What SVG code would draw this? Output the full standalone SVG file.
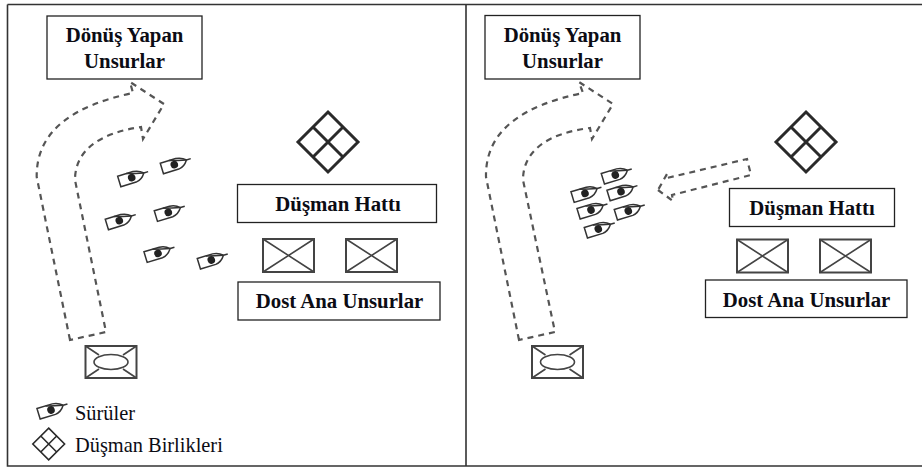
<svg xmlns="http://www.w3.org/2000/svg" width="922" height="467" viewBox="0 0 922 467">
<style>
text{font-family:"Liberation Serif","Times New Roman",serif;fill:#0c0c14}
.b{font-weight:bold;font-size:20.800px;text-anchor:middle}
.l{font-size:20.400px}
.box{fill:#fff;stroke:#222;stroke-width:1.300}
.sym{fill:none;stroke:#444;stroke-width:1.600}
.bt{fill:none;stroke:#333;stroke-width:1.500}
.dia{fill:none;stroke:#2a2a2a;stroke-width:3}
.arrow{fill:none;stroke:#555;stroke-width:2.200;stroke-dasharray:6 5}
</style>
<defs>
<g id="boat"><path class="bt" d="M-13-5.500H3Q9-5 13-1Q9 5 3 5.500H-13ZM13-1H17.500"/><path class="bt" d="M-4-5.500Q5-3 13-1" stroke-width="1"/><circle r="3.800" fill="#222"/></g>
<g id="diamond"><path class="dia" d="M0-30L30 0L0 30L-30 0ZM-15-15L15 15M15-15L-15 15"/></g>
<g id="unit"><rect class="sym" x="-25.500" y="-16.500" width="51" height="33" style="stroke-width:2"/><path class="sym" d="M-25.500-16.500L25.500 16.500M25.500-16.500L-25.500 16.500"/></g>
<g id="main"><rect class="sym" x="-25.500" y="-16" width="51" height="32" style="stroke-width:2"/><path class="sym" d="M-25.500-16L-12-7M25.500-16L12-7M-25.500 16L-12 7M25.500 16L12 7"/><ellipse class="sym" rx="17" ry="7.500"/></g>
</defs>
<g id="frame" fill="none" stroke="#333" stroke-width="1.600"><path d="M7.500 4.500H922M7.500 4.500V466H922M466 4.500V466"/></g>
<g id="connectors">
<path class="arrow" d="M70 340L36.700 177C36 130 75 105 133 93L130 82L164 104L143 139L141 127C100 133 75 150 75 180L106 332Z"/>
<path class="arrow" d="M519 340L486 177C485 130 524 105 583 93L579 82L613 104L592 139L590 128C549 133 523 150 523 180L555 332Z"/>
<path class="arrow" d="M658 190L673 201L672 195L751 175L747 159L667 178L667 174Z"/>
</g>
<g id="n-donus-1"><rect class="box" x="47" y="16" width="155" height="63"/><text class="b" x="124.500" y="41.500">Dönüş Yapan</text><text class="b" x="124.500" y="67.500">Unsurlar</text></g>
<g id="n-donus-2"><rect class="box" x="485" y="15.500" width="155" height="63.500"/><text class="b" x="562.500" y="41.500">Dönüş Yapan</text><text class="b" x="562.500" y="67.500">Unsurlar</text></g>
<g id="n-dusman-1"><rect class="box" x="237.500" y="184.500" width="199" height="38"/><text class="b" x="338" y="211">Düşman Hattı</text></g>
<g id="n-dusman-2"><rect class="box" x="729.500" y="188.500" width="165" height="38"/><text class="b" x="812" y="215">Düşman Hattı</text></g>
<g id="n-dost-1"><rect class="box" x="238" y="282" width="202" height="38"/><text class="b" x="339.500" y="307.500">Dost Ana Unsurlar</text></g>
<g id="n-dost-2"><rect class="box" x="705.500" y="280" width="201.500" height="37.500"/><text class="b" x="806.500" y="306.500">Dost Ana Unsurlar</text></g>
<g id="n-enemy-1"><use href="#diamond" x="328" y="142"/></g>
<g id="n-enemy-2"><use href="#diamond" x="806" y="142"/></g>
<g id="n-units-1"><use href="#unit" x="288.500" y="255.500"/><use href="#unit" x="371.500" y="255.500"/></g>
<g id="n-units-2"><use href="#unit" x="762.500" y="256"/><use href="#unit" x="845.500" y="256"/></g>
<g id="n-main-1"><use href="#main" x="111" y="362"/></g>
<g id="n-main-2"><use href="#main" x="557.500" y="362"/></g>
<g id="n-swarm-1">
<use href="#boat" transform="translate(131.700 177.700) rotate(-17)"/>
<use href="#boat" transform="translate(174.300 164.700) rotate(-17)"/>
<use href="#boat" transform="translate(119.300 220.700) rotate(-17)"/>
<use href="#boat" transform="translate(168.300 212.300) rotate(-17)"/>
<use href="#boat" transform="translate(158 253.300) rotate(-17)"/>
<use href="#boat" transform="translate(211.300 260) rotate(-17)"/>
</g>
<g id="n-swarm-2">
<use href="#boat" transform="translate(615.300 175) rotate(-17)"/>
<use href="#boat" transform="translate(585 193.300) rotate(-17)"/>
<use href="#boat" transform="translate(621 191.700) rotate(-17)"/>
<use href="#boat" transform="translate(591 210) rotate(-17)"/>
<use href="#boat" transform="translate(628.300 211) rotate(-17)"/>
<use href="#boat" transform="translate(598.300 229) rotate(-17)"/>
</g>
<g id="legend">
<use href="#boat" transform="translate(51 410) rotate(-17)"/>
<text class="l" x="75" y="420">Sürüler</text>
<use href="#diamond" transform="translate(48.700 444) scale(.53)"/>
<text class="l" x="75" y="452">Düşman Birlikleri</text>
</g>
</svg>
